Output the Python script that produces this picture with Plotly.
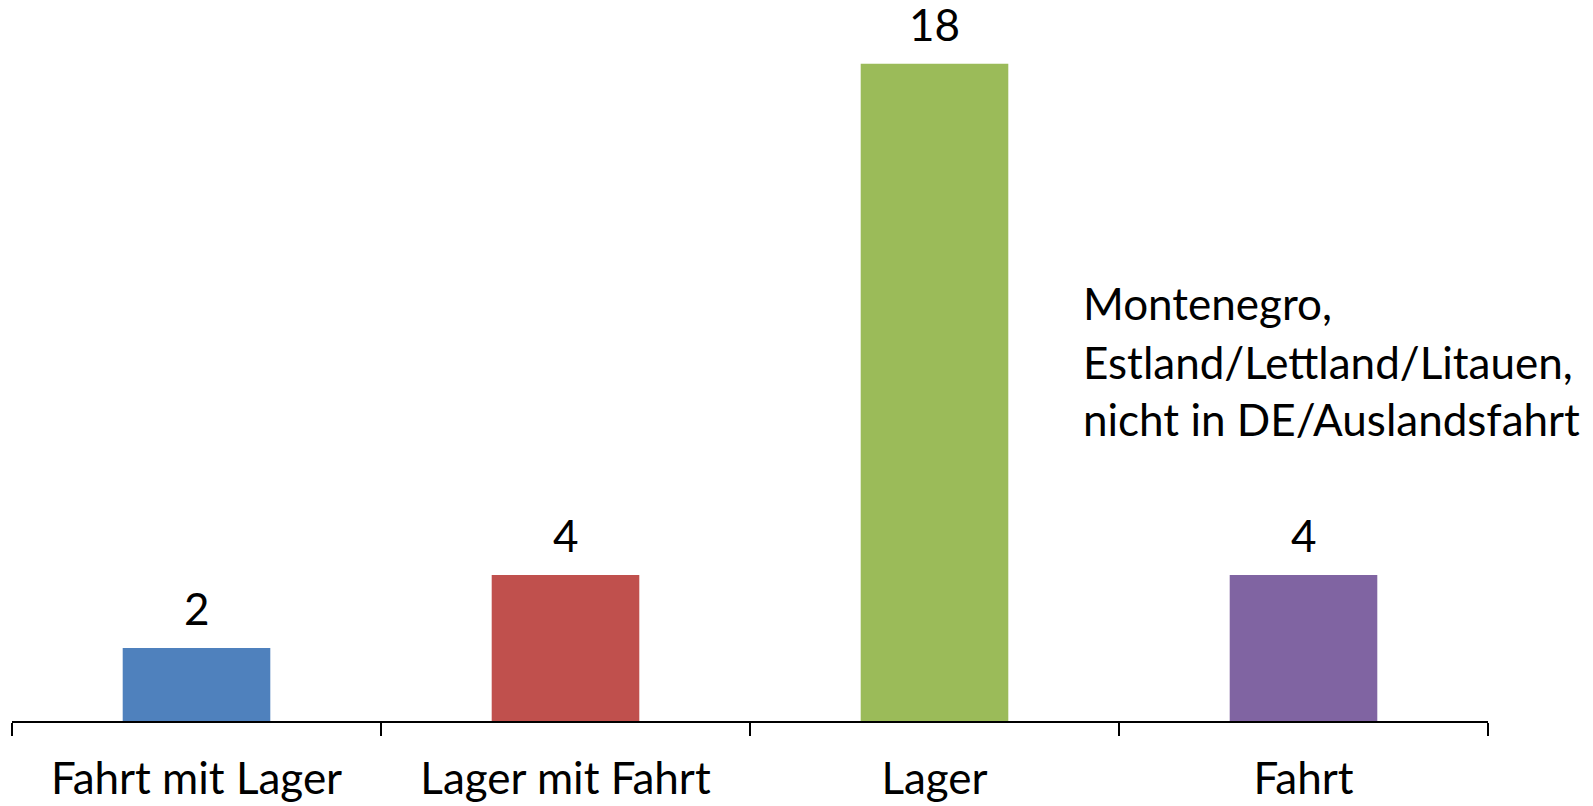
import plotly.graph_objects as go

categories = ["Fahrt mit Lager", "Lager mit Fahrt", "Lager", "Fahrt"]
values = [2, 4, 18, 4]
colors = ["#4F81BD", "#C0504D", "#9BBB59", "#8064A2"]
note_lines = ["Montenegro,", "Estland/Lettland/Litauen,", "nicht in DE/Auslandsfahrt"]
note_y = [11.45, 9.83, 8.27]

FONT = "Lato"
FS = 44
fig = go.Figure()
fig.add_trace(go.Bar(x=categories, y=values, marker=dict(color=colors, line=dict(width=0)),
                     width=0.4, showlegend=False))
for c, v in zip(categories, values):
    fig.add_annotation(x=c, y=v, text=str(v), showarrow=False, yanchor="bottom", yshift=12,
                       font=dict(family=FONT, size=FS, color="black"))
for line, yy in zip(note_lines, note_y):
    fig.add_annotation(x=2.5, y=yy, xref="x", yref="y", text=line, showarrow=False,
                       xanchor="left", yanchor="middle", xshift=-38,
                       font=dict(family=FONT, size=FS, color="black"))

fig.update_layout(
    width=1585, height=798,
    margin=dict(l=4, r=105, t=0, b=85),
    plot_bgcolor="white", paper_bgcolor="white",
    font=dict(family=FONT, size=FS, color="black"),
    xaxis=dict(range=[-0.5, 3.5], showline=True, linecolor="black", linewidth=1.5, ticks="outside",
               tickson="boundaries", ticklen=13, tickcolor="black", tickwidth=1.5,
               ticklabelstandoff=18, tickfont=dict(family=FONT, size=FS, color="black")),
    yaxis=dict(range=[0, 19.53], visible=False, showgrid=False),
)
fig.write_html("out.html")
